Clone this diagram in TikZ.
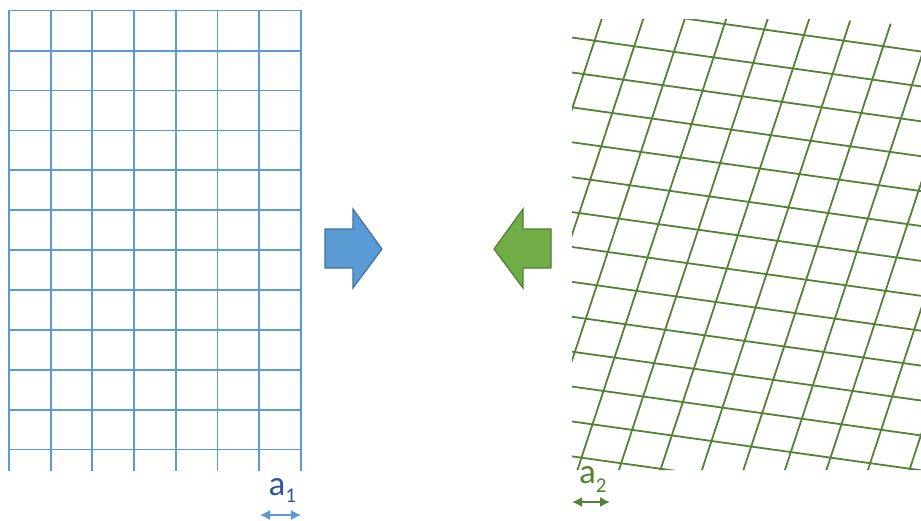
\documentclass[tikz,border=0pt]{standalone}
\usepackage{fontspec}
\setmainfont{Carlito}
\usetikzlibrary{arrows.meta}

\definecolor{gridblue}{HTML}{5B9BD5}
\definecolor{edgeblue}{HTML}{41719C}
\definecolor{labelblue}{HTML}{2F5597}
\definecolor{gridgreen}{HTML}{548235}
\definecolor{fillgreen}{HTML}{70AD47}
\definecolor{edgegreen}{HTML}{507E32}

% lowered index digit
\newcommand{\lowidx}[2]{{\fontsize{21}{21}\selectfont\raisebox{#1}{#2}}}

\begin{document}
\begin{tikzpicture}[
    x=1pt, y=-1pt,
    >={Latex[length=10pt,width=10pt]},
    blueline/.style={draw=gridblue, line width=1.5pt, line cap=rect},
    bluebold/.style={blueline, line width=2.1pt},
    greenline/.style={draw=gridgreen, line width=1.8pt},
    bluearrow/.style={draw=edgeblue, fill=gridblue, line width=1.2pt, line join=miter},
    greenarrow/.style={draw=edgegreen, fill=fillgreen, line width=1.2pt, line join=miter},
    dimblue/.style={<->, draw=gridblue, fill=gridblue, line width=1.2pt},
    dimgreen/.style={<->, draw=gridgreen, fill=gridgreen, line width=1.5pt},
    lbl/.style={inner sep=0pt, font=\fontsize{35}{40}\selectfont}
]
    \useasboundingbox (0,0) rectangle (921,520);

    % square lattice
    \foreach \i in {0,...,7}
        \draw[blueline] ({9+41.7*\i},10.7) -- ({9+41.7*\i},470);
    \foreach \i in {0,...,11}
        \draw[blueline] (9,{10.7+39.9*\i}) -- (301,{10.7+39.9*\i});
    \foreach \i in {1,2}
        \draw[bluebold] ({9+41.7*\i},10.7) -- ({9+41.7*\i},470);
    \foreach \i in {1,4,7,10}
        \draw[bluebold] (9,{10.7+39.9*\i}) -- (301,{10.7+39.9*\i});

    % distorted lattice
    \begin{scope}
        \clip (572,19) -- (830,19) -- (921,26) -- (921,470) -- (572,470) -- cycle;
        \foreach \k in {-1,...,12}
            \draw[greenline] (572,{37.56+34.9*\k}) -- (921,{86.4+34.9*\k});
        \foreach \j in {0,...,11}
            \draw[greenline] ({604.7+41.5*\j},10) -- ({449.6+41.5*\j},480);
    \end{scope}

    % block arrows
    \draw[bluearrow] (325,229) -- (353,229) -- (353,209) -- (382,249)
        -- (353,288) -- (353,268) -- (325,268) -- cycle;
    \draw[greenarrow] (551,229) -- (523,229) -- (523,209) -- (494,249)
        -- (523,288) -- (523,268) -- (551,268) -- cycle;

    % lattice constants
    \coordinate (aoneL) at (260,515);
    \coordinate (aoneR) at (301,515);
    \coordinate (atwoL) at (572,502);
    \coordinate (atwoR) at (610,502);
    \draw[dimblue] (aoneL) -- (aoneR);
    \draw[dimgreen] (atwoL) -- (atwoR);

    \node[lbl, text=labelblue, anchor=base west] (aone) at (268.5,495) {a\lowidx{-7pt}{1}};
    \node[lbl, text=gridgreen, anchor=base west] (atwo) at (579,483) {a\lowidx{-9pt}{2}};
\end{tikzpicture}
\end{document}
